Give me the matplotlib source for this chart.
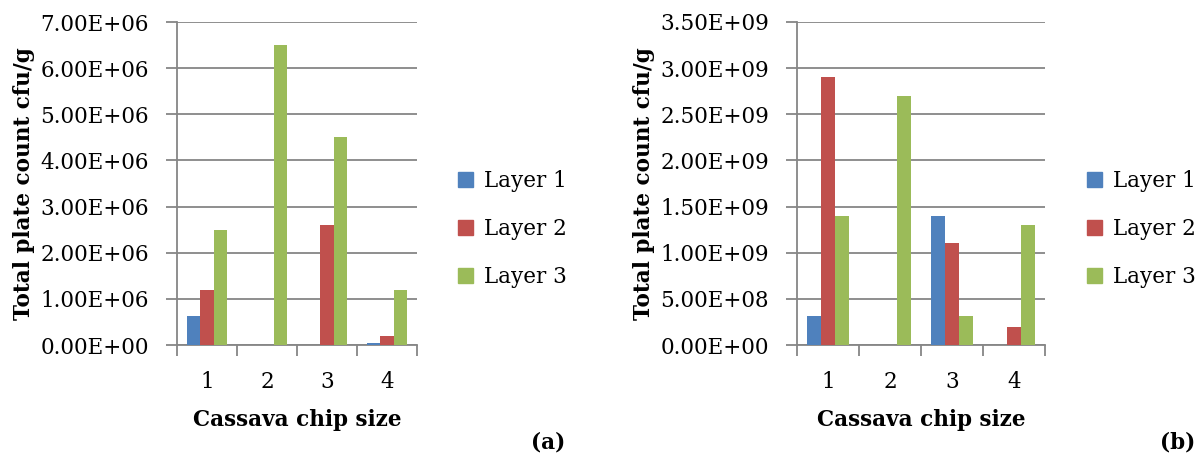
import numpy as np
import matplotlib
matplotlib.use("Agg")
import matplotlib.pyplot as plt
from matplotlib.patches import Patch

plt.rcParams["font.family"] = ["DejaVu Serif"]

sizes = ["1", "2", "3", "4"]
layers = ["Layer 1", "Layer 2", "Layer 3"]
colors = ["#4F81BD", "#C0504D", "#9BBB59"]

# panel (a) total plate count, cfu/g
a_layer1 = [6.2e5, 0, 1.0e4, 5.0e4]
a_layer2 = [1.2e6, 0, 2.6e6, 2.0e5]
a_layer3 = [2.5e6, 6.5e6, 4.5e6, 1.2e6]
a_ticks = np.arange(0, 7.01e6, 1e6)

# panel (b) total plate count, cfu/g
b_layer1 = [3.1e8, 0, 1.4e9, 5.0e6]
b_layer2 = [2.9e9, 0, 1.1e9, 1.9e8]
b_layer3 = [1.4e9, 2.7e9, 3.1e8, 1.3e9]
b_ticks = np.arange(0, 3.51e9, 5e8)

W, H = 1204, 459
fig = plt.figure(figsize=(W / 100, H / 100), dpi=100)
GRID = "#868686"
FS = 15.5


def px_axes(x0, x1, y0, y1):
    return fig.add_axes([x0 / W, 1 - y1 / H, (x1 - x0) / W, (y1 - y0) / H])


def panel(ax, series, ticks, tag, tag_x, leg_x):
    bw = 0.222
    x = np.arange(len(sizes))
    for i, (vals, col) in enumerate(zip(series, colors)):
        ax.bar(x + (i - 1) * bw, vals, bw, color=col, zorder=3)
    ax.set_xlim(-0.5, len(sizes) - 0.5)
    ax.set_ylim(ticks[0], ticks[-1])
    ax.set_yticks(ticks)
    ax.set_yticklabels([f"{t:.2E}" for t in ticks], fontsize=FS)
    ax.yaxis.grid(True, color=GRID, lw=1.3, zorder=0)
    ax.set_xticks(np.arange(-0.5, len(sizes), 1.0))
    ax.set_xticklabels([])
    ax.set_xticks(x, minor=True)
    ax.set_xticklabels(sizes, minor=True, fontsize=FS)
    ax.tick_params(axis="x", which="minor", length=0, pad=19)
    ax.tick_params(axis="x", which="major", length=8, width=1.3, color=GRID)
    ax.tick_params(axis="y", length=8, width=1.3, color=GRID, pad=12)
    for s in ("top", "right"):
        ax.spines[s].set_visible(False)
    for s in ("left", "bottom"):
        ax.spines[s].set_color(GRID)
        ax.spines[s].set_linewidth(1.3)
    ax.set_xlabel("Cassava chip size", fontsize=FS, fontweight="bold", labelpad=11)
    ax.set_ylabel("Total plate count cfu/g", fontsize=FS, fontweight="bold", labelpad=4)
    handles = [Patch(color=c) for c in colors]
    fig.legend(handles, layers, loc="center left", bbox_to_anchor=(leg_x / W, 1 - 229 / H),
               frameon=False, fontsize=FS, handlelength=0.7, handleheight=0.7,
               handletextpad=0.5, labelspacing=1.2)
    fig.text(tag_x / W, 1 - 442 / H, tag, fontsize=FS, fontweight="bold",
             ha="center", va="center")


ax_a = px_axes(177, 417, 22, 345)
panel(ax_a, [a_layer1, a_layer2, a_layer3], a_ticks, "(a)", 548, 439)

ax_b = px_axes(797, 1045, 22, 345)
panel(ax_b, [b_layer1, b_layer2, b_layer3], b_ticks, "(b)", 1178, 1068)

fig.savefig("out.png", dpi=100, facecolor="white")
